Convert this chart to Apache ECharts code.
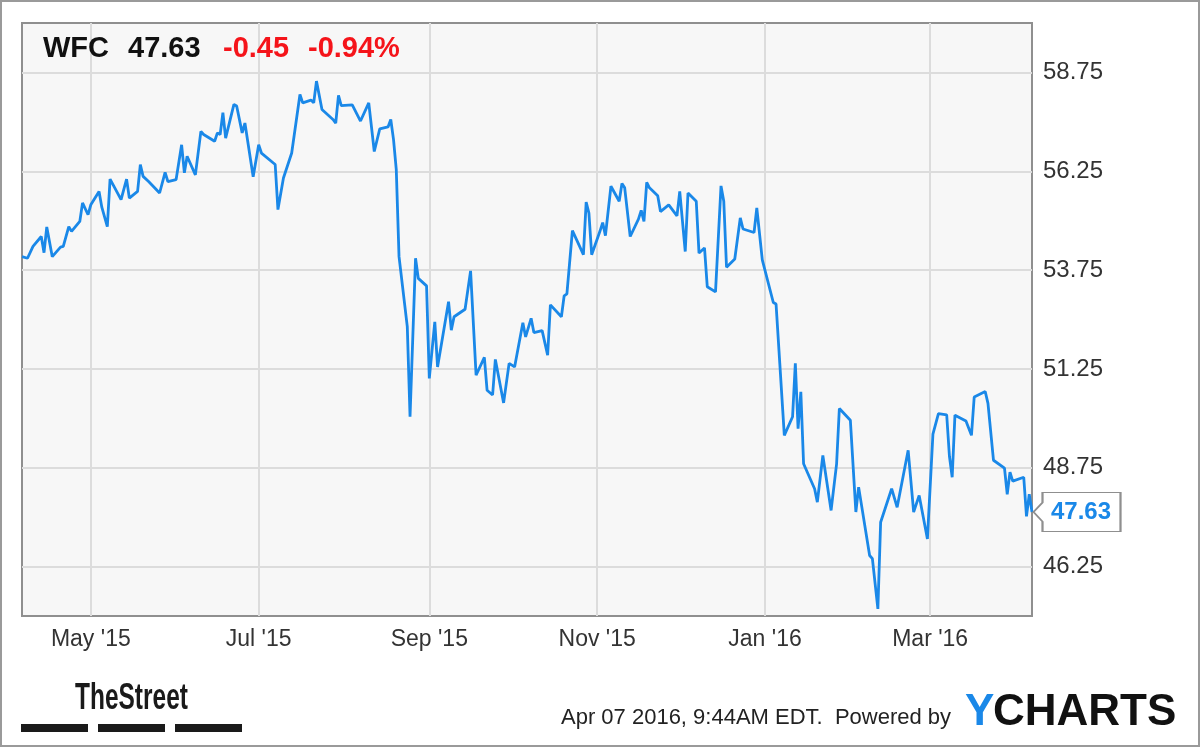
<!DOCTYPE html>
<html>
<head>
<meta charset="utf-8">
<script src="https://cdn.jsdelivr.net/npm/echarts@6/dist/echarts.min.js"></script>
<style>
  html, body { margin: 0; padding: 0; background: #fff; }
  #main { width: 1200px; height: 747px; }
</style>
</head>
<body>
<div id="main"></div>
<script>
// WFC daily close
const dates = [
  '2015-04-06','2015-04-08','2015-04-10','2015-04-13','2015-04-14','2015-04-15','2015-04-17','2015-04-20',
  '2015-04-21','2015-04-23','2015-04-24','2015-04-27','2015-04-28','2015-04-30','2015-05-01','2015-05-04',
  '2015-05-05','2015-05-07','2015-05-08','2015-05-12','2015-05-14','2015-05-15','2015-05-18','2015-05-19',
  '2015-05-20','2015-05-22','2015-05-26','2015-05-28','2015-05-29','2015-06-01','2015-06-03','2015-06-04',
  '2015-06-05','2015-06-08','2015-06-10','2015-06-11','2015-06-15','2015-06-16','2015-06-17','2015-06-18',
  '2015-06-19','2015-06-22','2015-06-23','2015-06-25','2015-06-26','2015-06-29','2015-07-01','2015-07-02',
  '2015-07-07','2015-07-08','2015-07-10','2015-07-13','2015-07-16','2015-07-17','2015-07-20','2015-07-21',
  '2015-07-22','2015-07-24','2015-07-28','2015-07-29','2015-07-30','2015-07-31','2015-08-04','2015-08-07',
  '2015-08-10','2015-08-12','2015-08-14','2015-08-17','2015-08-18','2015-08-19','2015-08-20','2015-08-21',
  '2015-08-24','2015-08-25','2015-08-27','2015-08-28','2015-08-31','2015-09-01','2015-09-03','2015-09-04',
  '2015-09-08','2015-09-09','2015-09-10','2015-09-14','2015-09-16','2015-09-18','2015-09-21','2015-09-22',
  '2015-09-24','2015-09-25','2015-09-28','2015-09-30','2015-10-02','2015-10-05','2015-10-06','2015-10-08',
  '2015-10-09','2015-10-12','2015-10-14','2015-10-15','2015-10-19','2015-10-20','2015-10-21','2015-10-23',
  '2015-10-27','2015-10-28','2015-10-29','2015-10-30','2015-11-02','2015-11-03','2015-11-04','2015-11-06',
  '2015-11-09','2015-11-10','2015-11-11','2015-11-13','2015-11-16','2015-11-17','2015-11-18','2015-11-19',
  '2015-11-20','2015-11-23','2015-11-24','2015-11-27','2015-11-30','2015-12-01','2015-12-03','2015-12-04',
  '2015-12-07','2015-12-08','2015-12-10','2015-12-11','2015-12-14','2015-12-16','2015-12-17','2015-12-18',
  '2015-12-21','2015-12-23','2015-12-24','2015-12-28','2015-12-29','2015-12-31','2016-01-04','2016-01-05',
  '2016-01-08','2016-01-11','2016-01-12','2016-01-13','2016-01-14','2016-01-15','2016-01-19','2016-01-20',
  '2016-01-22','2016-01-25','2016-01-27','2016-01-28','2016-02-01','2016-02-03','2016-02-04','2016-02-08',
  '2016-02-09','2016-02-11','2016-02-12','2016-02-16','2016-02-18','2016-02-22','2016-02-24','2016-02-26',
  '2016-02-29','2016-03-02','2016-03-04','2016-03-07','2016-03-08','2016-03-09','2016-03-10','2016-03-14',
  '2016-03-16','2016-03-17','2016-03-21','2016-03-22','2016-03-24','2016-03-28','2016-03-29','2016-03-30',
  '2016-03-31','2016-04-04','2016-04-05','2016-04-06','2016-04-07'
]
const prices = [
  54.09,54.05,54.35,54.60,54.19,54.84,54.09,54.33,
  54.35,54.85,54.73,54.98,55.45,55.15,55.40,55.74,
  55.34,54.85,56.05,55.53,56.05,55.57,55.74,56.42,
  56.12,55.99,55.70,56.22,55.99,56.04,56.92,56.21,
  56.63,56.16,57.26,57.18,57.01,57.22,57.18,57.73,
  57.09,57.94,57.90,57.22,57.47,56.11,56.92,56.71,
  56.42,55.28,56.08,56.71,58.19,57.98,58.05,57.98,
  58.53,57.81,57.56,57.47,58.17,57.91,57.93,57.52,
  57.98,56.75,57.32,57.37,57.56,57.05,56.29,54.09,
  52.32,50.04,54.05,53.54,53.35,51.01,52.44,51.30,
  52.95,52.23,52.57,52.76,53.73,51.09,51.54,50.71,
  50.59,51.49,50.39,51.39,51.30,52.42,52.06,52.53,
  52.17,52.22,51.60,52.87,52.57,53.10,53.15,54.75,
  54.14,55.47,55.19,54.14,54.73,54.95,54.62,55.87,
  55.49,55.94,55.83,54.60,55.04,55.26,54.98,55.97,
  55.83,55.63,55.23,55.40,55.12,55.74,54.22,55.70,
  55.49,54.18,54.31,53.33,53.20,55.88,55.49,53.82,
  54.03,55.07,54.79,54.70,55.32,54.01,52.93,52.89,
  49.57,50.04,51.39,49.74,50.67,48.85,48.22,47.88,
  49.06,47.67,48.85,50.25,49.95,47.63,48.26,46.53,
  46.45,45.18,47.37,48.22,47.75,49.19,47.63,48.05,
  46.95,49.60,50.12,50.09,49.04,48.51,50.08,49.93,
  49.57,50.54,50.68,50.38,48.94,48.74,48.08,48.64,
  48.41,48.51,47.52,48.08,47.63
]
const monthTicks = ['2015-05-01','2015-07-01','2015-09-01','2015-11-01','2016-01-01','2016-03-01']
const priceTicks = [46.25, 48.75, 51.25, 53.75, 56.25, 58.75]
const monthNames = ['Jan','Feb','Mar','Apr','May','Jun','Jul','Aug','Sep','Oct','Nov','Dec']
const startDate = '2015-04-06'
const endDate = '2016-04-07'

const FONT = '"Liberation Sans", Arial, sans-serif'
const BLUE = '#1a88e8'

// dates -> timestamps, so the x axis can be a plain value axis with custom ticks
function ts(s) {
  const p = s.split('-').map(Number)
  return new Date(p[0], p[1] - 1, p[2]).getTime()
}

const seriesData = dates.map((d, i) => [ts(d), prices[i]])
const tickStamps = monthTicks.map(ts)
const lastPrice = prices[prices.length - 1]
const lastPoint = seriesData[seriesData.length - 1]

const chart = echarts.init(document.getElementById('main'))
chart.setOption({
  animation: false,
  textStyle: { fontFamily: FONT },
  grid: {
    left: 22,
    right: 168,
    top: 23,
    bottom: 131,
    show: true,
    backgroundColor: '#f7f7f7',
    borderColor: '#8f8f8f',
    borderWidth: 2
  },
  xAxis: {
    type: 'value',
    min: ts(startDate),
    max: ts(endDate),
    axisLine: { show: false },
    axisTick: { show: false, customValues: tickStamps },
    axisLabel: {
      customValues: tickStamps,
      color: '#333',
      fontSize: 23,
      margin: 12,
      formatter: v => {
        const d = new Date(v)
        return monthNames[d.getMonth()] + " '" + String(d.getFullYear()).slice(2)
      }
    },
    splitLine: { show: true, lineStyle: { color: '#dcdcdc', width: 2 } }
  },
  yAxis: {
    type: 'value',
    position: 'right',
    min: 45,
    max: 60,
    axisLine: { show: false },
    axisTick: { show: false, customValues: priceTicks },
    axisLabel: {
      customValues: priceTicks,
      color: '#333',
      fontSize: 24,
      margin: 11,
      formatter: v => v.toFixed(2)
    },
    splitLine: { show: true, lineStyle: { color: '#dcdcdc', width: 2 } }
  },
  series: [{
    type: 'line',
    data: seriesData,
    showSymbol: false,
    symbol: 'none',
    lineStyle: { color: BLUE, width: 2.8 },
    markPoint: {
      silent: true,
      symbol: 'path://M0,19.5 L9,10 L9,0 L87,0 L87,39 L9,39 L9,29 Z',
      symbolSize: [87, 39],
      symbolOffset: [45, 0],
      itemStyle: { color: '#fff', borderColor: '#8f8f8f', borderWidth: 1.5 },
      label: {
        show: true,
        position: 'inside',
        offset: [4, 0],
        color: BLUE,
        fontSize: 24,
        fontWeight: 'bold',
        formatter: () => lastPrice.toFixed(2)
      },
      data: [{ coord: lastPoint, value: lastPrice }]
    }
  }],
  graphic: [
    // outer frame
    { type: 'rect', silent: true, z: 100,
      shape: { x: 1, y: 1, width: 1198, height: 745 },
      style: { fill: 'none', stroke: '#9a9a9a', lineWidth: 2 } },
    // header
    { type: 'text', x: 43, y: 49, z: 100,
      style: { text: 'WFC', font: 'bold 29px ' + FONT, fill: '#111', textVerticalAlign: 'middle' } },
    { type: 'text', x: 128, y: 49, z: 100,
      style: { text: '47.63', font: 'bold 29px ' + FONT, fill: '#111', textVerticalAlign: 'middle' } },
    { type: 'text', x: 223, y: 49, z: 100,
      style: { text: '-0.45', font: 'bold 29px ' + FONT, fill: '#f5141a', textVerticalAlign: 'middle' } },
    { type: 'text', x: 308, y: 49, z: 100,
      style: { text: '-0.94%', font: 'bold 29px ' + FONT, fill: '#f5141a', textVerticalAlign: 'middle' } },
    // footer: TheStreet logo
    { type: 'text', x: 75, y: 699, scaleX: 0.68, z: 100,
      style: { text: 'TheStreet', font: 'bold 36px ' + FONT, fill: '#1a1a1a', textVerticalAlign: 'middle' } },
    { type: 'rect', x: 21, y: 724, shape: { width: 67, height: 8 }, style: { fill: '#1a1a1a' } },
    { type: 'rect', x: 98, y: 724, shape: { width: 67, height: 8 }, style: { fill: '#1a1a1a' } },
    { type: 'rect', x: 175, y: 724, shape: { width: 67, height: 8 }, style: { fill: '#1a1a1a' } },
    // footer: timestamp and YCharts
    { type: 'text', x: 561, y: 718, z: 100,
      style: { text: 'Apr 07 2016, 9:44AM EDT.  Powered by', font: '22px ' + FONT, fill: '#222', textVerticalAlign: 'middle' } },
    { type: 'text', x: 965, y: 713, z: 100,
      style: { text: 'Y', font: 'bold 44px ' + FONT, fill: BLUE, textVerticalAlign: 'middle' } },
    { type: 'text', x: 993, y: 713, z: 100,
      style: { text: 'CHARTS', font: 'bold 44px ' + FONT, fill: '#111', textVerticalAlign: 'middle' } }
  ]
})
</script>
</body>
</html>
